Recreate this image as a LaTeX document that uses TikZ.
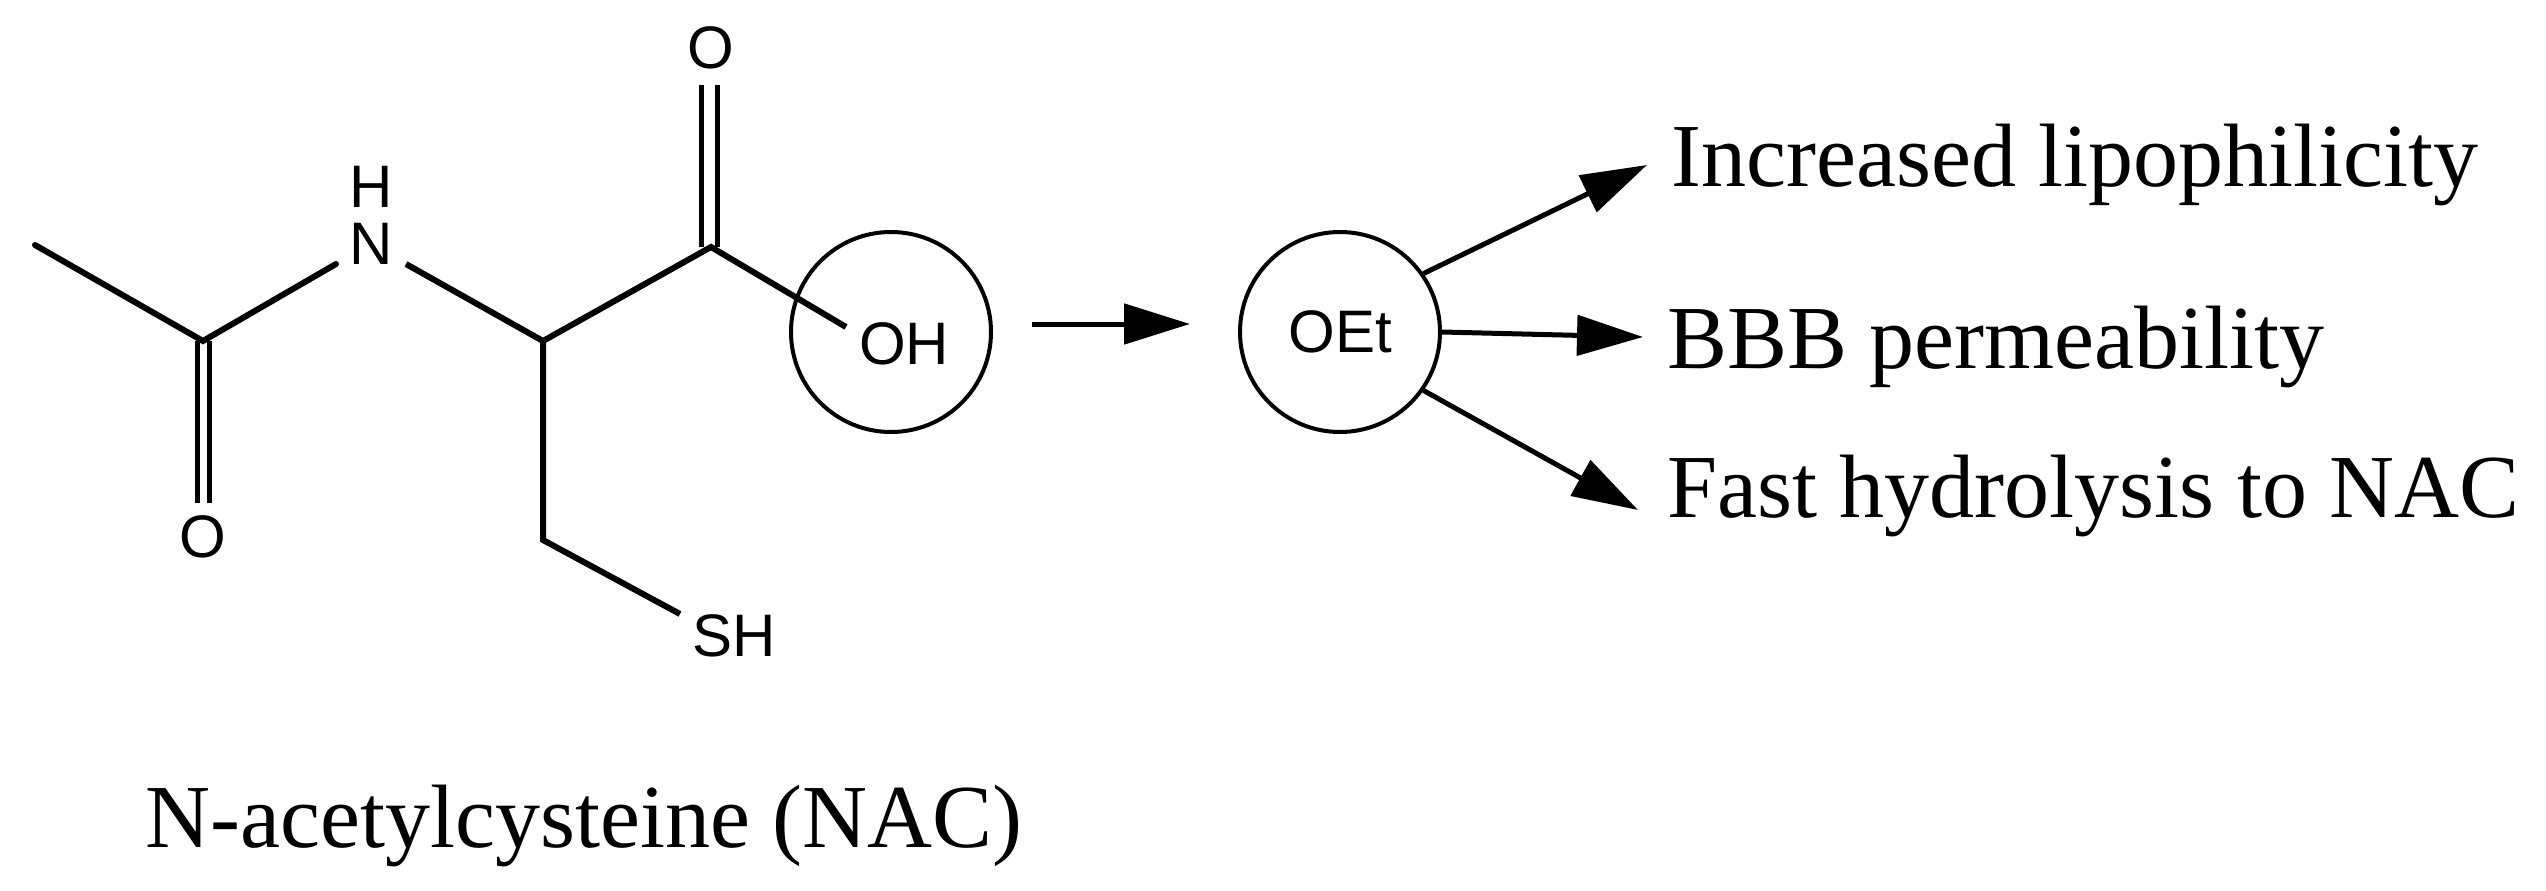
\documentclass[tikz,border=0pt]{standalone}
\usepackage{fontspec}
\setmainfont{Liberation Serif}
\newfontfamily\arial{Liberation Sans}
\usetikzlibrary{arrows.meta}
\begin{document}
\begin{tikzpicture}[x=1pt,y=-1pt,
  bond/.style={line width=6pt},
  atom/.style={font=\arial\fontsize{60}{60}\selectfont,inner sep=0pt},
  lbl/.style={font=\fontsize{90}{90}\selectfont,inner sep=0pt,anchor=base west},
  ring/.style={draw,line width=4pt,circle,minimum size=200pt,inner sep=0pt},
  arr/.style={line width=5pt,-{Triangle[length=66pt,width=40pt]}}]
\useasboundingbox (0,0) rectangle (2546,891);
\coordinate (me) at (35,245);
\coordinate (c1) at (203,341);
\node[atom] (o1) at (203,537) {O};
\node[atom] (n) at (371,244) {N};
\node[atom] (h) at (371,187) {H};
\coordinate (ch) at (543,341);
\coordinate (c2) at (711,247);
\node[atom] (o2) at (711,48) {O};
\node[atom] (oh) at (904,344) {OH};
\coordinate (ch2) at (543,540);
\node[atom] (sh) at (734,636) {SH};
\coordinate (sb) at (680,614);
\coordinate (ob) at (846,327);
\draw[bond,line cap=round] (me) -- (c1) -- (336,264);
\draw[bond] (406,264) -- (ch) -- (c2) -- (ob);
\draw[bond] (ch) -- (ch2) -- (sb);
\draw[bond,line width=5pt] ([xshift=-6pt]c1) -- ([xshift=-6pt]203,503);
\draw[bond,line width=5pt] ([xshift=6pt]c1) -- ([xshift=6pt]203,503);
\draw[bond,line width=5pt] ([xshift=-10pt]c2) -- ([xshift=-10pt]711,85);
\draw[bond,line width=5pt] ([xshift=6pt]c2) -- ([xshift=6pt]711,85);
\node[ring] (r1) at (891,332) {};
\node[ring,font=\arial\fontsize{60}{60}\selectfont] (r2) at (1340,332) {OEt};
\draw[arr] (1032,324) -- (1190,324);
\node[lbl] (t1) at (1671,186) {Increased lipophilicity};
\node[lbl] (t2) at (1667,368) {BBB permeability};
\node[lbl] (t3) at (1667,517) {Fast hydrolysis to NAC};
\draw[arr] (r2.35) -- (1647,165);
\draw[arr] (r2.east) -- (1643,337);
\draw[arr] (r2.-35) -- (1638,510);
\node[lbl] (cap) at (145,847) {N-acetylcysteine (NAC)};
\end{tikzpicture}
\end{document}
